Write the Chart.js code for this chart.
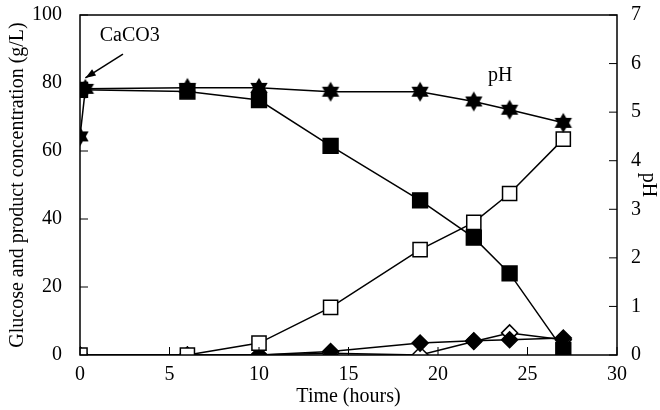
<!DOCTYPE html>
<html>
<head>
<meta charset="utf-8">
<script src="https://cdn.jsdelivr.net/npm/chart.js@4/dist/chart.umd.min.js"></script>
<style>
  body { margin: 0; background: #fff; }
  #wrap { width: 660px; height: 410px; }
</style>
</head>
<body>
<div id="wrap"><canvas id="chart"></canvas></div>
<script>
// sampling times (hours)
const times = [0, 6, 10, 14, 19, 22, 24, 27];
const phTimes = [0, 0.3, 6, 10, 14, 19, 22, 24, 27];

// concentrations (g/L)
const glucose = [78, 77.5, 75, 61.5, 45.5, 34.5, 24, 1.5];
const lactic = [0, 0, 3.5, 14, 31, 39, 47.5, 63.5];
const productA = [0, 0, 0, 1, 3.5, 4.2, 4.5, 5];
const productB = [0, 0, 0, 0.5, 0, 4, 6.5, 4.5];

// pH (right axis)
const ph = [4.5, 5.48, 5.5, 5.5, 5.42, 5.42, 5.22, 5.05, 4.78];

const xTicks = [0, 5, 10, 15, 20, 25, 30];

const font = "'Liberation Serif', 'Times New Roman', serif";
const fsize = 20;

const pairs = (xs, ys) => xs.map((x, i) => ({ x, y: ys[i] }));

// filled six-pointed star used as the pH marker
const starImg = (() => {
    const c = document.createElement('canvas');
    c.width = 22;
    c.height = 22;
    const g = c.getContext('2d');
    g.fillStyle = '#000';
    const tri = (rot) => {
        g.beginPath();
        for (let k = 0; k < 3; k++) {
            const a = rot + k * 2 * Math.PI / 3;
            const px = 11 + 10 * Math.sin(a);
            const py = 11 - 10 * Math.cos(a);
            if (k === 0) g.moveTo(px, py); else g.lineTo(px, py);
        }
        g.closePath();
        g.fill();
    };
    tri(0);
    tri(Math.PI);
    return c;
})();

const frame = {
    id: 'frame',
    afterDraw(chart) {
        const { ctx, chartArea: a, scales } = chart;
        ctx.save();
        ctx.strokeStyle = '#000';
        ctx.lineWidth = 1.5;
        ctx.strokeRect(a.left, a.top, a.right - a.left, a.bottom - a.top);

        // inward tick marks
        ctx.lineWidth = 1;
        ctx.beginPath();
        scales.x.ticks.forEach((t, i) => {
            const px = scales.x.getPixelForTick(i);
            ctx.moveTo(px, a.bottom);
            ctx.lineTo(px, a.bottom - 8);
        });
        scales.y.ticks.forEach((t, i) => {
            const py = scales.y.getPixelForTick(i);
            ctx.moveTo(a.left, py);
            ctx.lineTo(a.left + 8, py);
        });
        scales.y1.ticks.forEach((t, i) => {
            const py = scales.y1.getPixelForTick(i);
            ctx.moveTo(a.right, py);
            ctx.lineTo(a.right - 8, py);
        });
        ctx.stroke();

        // annotations
        const X = (v) => scales.x.getPixelForValue(v);
        const Y = (v) => scales.y.getPixelForValue(v);
        ctx.fillStyle = '#000';
        ctx.font = `${fsize}px ${font}`;
        ctx.textBaseline = 'alphabetic';
        ctx.textAlign = 'left';
        ctx.fillText('CaCO3', X(1.1), Y(92.5));
        ctx.fillText('pH', X(22.8), Y(80.5));

        const x0 = X(2.4), y0 = Y(88.5), x1 = X(0.3), y1 = Y(81.5);
        ctx.lineWidth = 1.5;
        ctx.beginPath();
        ctx.moveTo(x0, y0);
        ctx.lineTo(x1, y1);
        ctx.stroke();
        const ang = Math.atan2(y1 - y0, x1 - x0);
        ctx.beginPath();
        ctx.moveTo(x1, y1);
        ctx.lineTo(x1 - 11 * Math.cos(ang - 0.35), y1 - 11 * Math.sin(ang - 0.35));
        ctx.lineTo(x1 - 11 * Math.cos(ang + 0.35), y1 - 11 * Math.sin(ang + 0.35));
        ctx.closePath();
        ctx.fill();
        ctx.restore();
    }
};

const line = (data, extra) => Object.assign({
    data,
    borderColor: '#000',
    borderWidth: 1.5,
    pointBorderColor: '#000',
    pointBorderWidth: 1.5,
    tension: 0
}, extra);

const tickFont = { family: font, size: fsize };

// drop the automatic half-label padding so the plot box sits where the original does
const noVPad = (s) => { s.paddingTop = 0; s.paddingBottom = 0; };

new Chart(document.getElementById('chart'), {
    type: 'line',
    data: {
        datasets: [
            line(pairs(times, glucose), { pointStyle: 'rect', pointRadius: 10.5, pointBackgroundColor: '#000' }),
            line(pairs(phTimes, ph), { yAxisID: 'y1', pointStyle: starImg }),
            line(pairs(times, lactic), { pointStyle: 'rect', pointRadius: 10, pointBackgroundColor: '#fff' }),
            line(pairs(times, productA), { pointStyle: 'rectRot', pointRadius: 8, pointBackgroundColor: '#000' }),
            line(pairs(times, productB), { pointStyle: 'rectRot', pointRadius: 8, pointBackgroundColor: '#fff' })
        ]
    },
    options: {
        responsive: true,
        maintainAspectRatio: false,
        animation: false,
        layout: { padding: { top: 15, left: 6, right: 0, bottom: 1 } },
        plugins: { legend: { display: false }, tooltip: { enabled: false } },
        scales: {
            x: {
                type: 'linear',
                min: 0,
                max: 30,
                afterBuildTicks: (s) => { s.ticks = xTicks.map(v => ({ value: v })); },
                grid: { display: false },
                border: { display: false },
                ticks: { color: '#000', font: tickFont, padding: 0 },
                title: { display: true, text: 'Time (hours)', color: '#000', font: tickFont, padding: 0 },
                afterFit: (s) => { s.height = 54; }
            },
            y: {
                min: 0,
                max: 100,
                ticks: { stepSize: 20, color: '#000', font: tickFont, padding: 10 },
                grid: { display: false },
                border: { display: false },
                title: { display: true, text: 'Glucose and product concentration (g/L)', color: '#000', font: tickFont, padding: 0 },
                afterFit: (s) => { s.width = 74; noVPad(s); }
            },
            y1: {
                position: 'right',
                min: 0,
                max: 7,
                ticks: { stepSize: 1, color: '#000', font: tickFont, padding: 6 },
                grid: { display: false },
                border: { display: false },
                title: { display: true, text: 'pH', color: '#000', font: tickFont, padding: 0 },
                afterFit: (s) => { s.width = 43; noVPad(s); }
            }
        }
    },
    plugins: [frame]
});
</script>
</body>
</html>
